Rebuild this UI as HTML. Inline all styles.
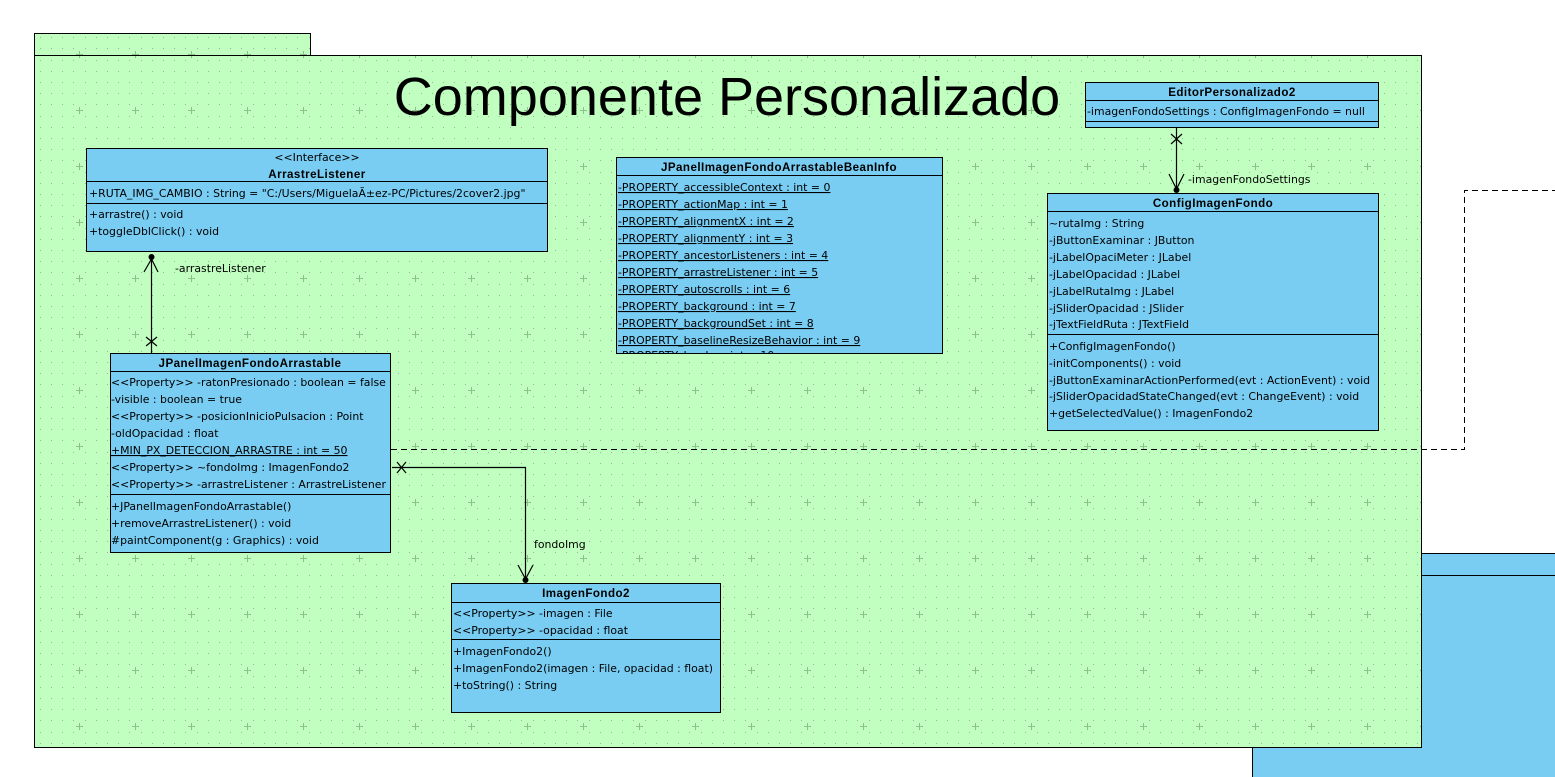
<!DOCTYPE html>
<html><head><meta charset="utf-8"><style>
html,body{margin:0;padding:0;background:#fff;width:1555px;height:777px;overflow:hidden}
svg{display:block}
text{font-family:"DejaVu Sans","Liberation Sans",sans-serif;font-size:10.9px;fill:#000}
.b{font-family:"Liberation Sans",Arial,sans-serif;font-size:11.6px;font-weight:bold;letter-spacing:0.45px}
.t{font-family:"Liberation Sans",Arial,sans-serif;font-size:54px}
</style></head><body>
<svg width="1555" height="777" viewBox="0 0 1555 777" xmlns="http://www.w3.org/2000/svg">
<defs>
<pattern id="g" x="51" y="26" width="56" height="56" patternUnits="userSpaceOnUse">
<g fill="#8cbf8c">
<rect x="0" y="0" width="1" height="1"/><rect x="11" y="0" width="1" height="1"/><rect x="22" y="0" width="1" height="1"/><rect x="34" y="0" width="1" height="1"/><rect x="45" y="0" width="1" height="1"/>
<rect x="0" y="11" width="1" height="1"/><rect x="11" y="11" width="1" height="1"/><rect x="22" y="11" width="1" height="1"/><rect x="34" y="11" width="1" height="1"/><rect x="45" y="11" width="1" height="1"/>
<rect x="0" y="22" width="1" height="1"/><rect x="11" y="22" width="1" height="1"/><rect x="22" y="22" width="1" height="1"/><rect x="34" y="22" width="1" height="1"/><rect x="45" y="22" width="1" height="1"/>
<rect x="0" y="34" width="1" height="1"/><rect x="11" y="34" width="1" height="1"/><rect x="22" y="34" width="1" height="1"/><rect x="34" y="34" width="1" height="1"/><rect x="45" y="34" width="1" height="1"/>
<rect x="0" y="45" width="1" height="1"/><rect x="11" y="45" width="1" height="1"/><rect x="22" y="45" width="1" height="1"/><rect x="34" y="45" width="1" height="1"/><rect x="45" y="45" width="1" height="1"/>
<rect x="25" y="28" width="7" height="1"/><rect x="28" y="25" width="1" height="7"/>
</g>
</pattern>
</defs>
<rect x="1252.5" y="553.5" width="310" height="230" fill="#79cdf3" stroke="#000"/>
<line x1="1252" y1="575.5" x2="1555" y2="575.5" stroke="#000"/>
<rect x="34.5" y="33.5" width="276" height="22" fill="#c0ffc0" stroke="#000"/>
<rect x="34.5" y="33.5" width="276" height="22" fill="url(#g)"/>
<rect x="34.5" y="55.5" width="1387" height="692" fill="#c0ffc0" stroke="#000"/>
<rect x="35" y="56" width="1386" height="691" fill="url(#g)"/>
<text x="727" y="115" text-anchor="middle" class="t">Componente Personalizado</text>
<polyline points="391,449.5 1464.5,449.5 1464.5,190.5 1555,190.5" fill="none" stroke="#000" stroke-dasharray="6,4"/>

<rect x="86.5" y="148.5" width="461" height="103" fill="#79cdf3" stroke="#000"/>
<text x="317" y="161" text-anchor="middle">&lt;&lt;Interface&gt;&gt;</text>
<text x="317" y="178" text-anchor="middle" class="b">ArrastreListener</text>
<line x1="86" y1="181.5" x2="547" y2="181.5" stroke="#000"/>
<text x="89" y="197">+RUTA_IMG_CAMBIO : String = "C:/Users/MiguelaÃ±ez-PC/Pictures/2cover2.jpg"</text>
<line x1="86" y1="203.5" x2="547" y2="203.5" stroke="#000"/>
<text x="89" y="218">+arrastre() : void</text>
<text x="89" y="235">+toggleDblClick() : void</text>

<rect x="110.5" y="353.5" width="280" height="199" fill="#79cdf3" stroke="#000"/>
<text x="250" y="367" text-anchor="middle" class="b">JPanelImagenFondoArrastable</text>
<line x1="110" y1="371.5" x2="390" y2="371.5" stroke="#000"/>
<text x="111" y="386">&lt;&lt;Property&gt;&gt; -ratonPresionado : boolean = false</text>
<text x="111" y="403">-visible : boolean = true</text>
<text x="111" y="420">&lt;&lt;Property&gt;&gt; -posicionInicioPulsacion : Point</text>
<text x="111" y="437">-oldOpacidad : float</text>
<text x="111" y="454" text-decoration="underline">+MIN_PX_DETECCION_ARRASTRE : int = 50</text>
<text x="111" y="471">&lt;&lt;Property&gt;&gt; ~fondoImg : ImagenFondo2</text>
<text x="111" y="488">&lt;&lt;Property&gt;&gt; -arrastreListener : ArrastreListener</text>
<line x1="110" y1="494.5" x2="390" y2="494.5" stroke="#000"/>
<text x="111" y="510">+JPanelImagenFondoArrastable()</text>
<text x="111" y="527">+removeArrastreListener() : void</text>
<text x="111" y="544">#paintComponent(g : Graphics) : void</text>

<svg x="616" y="157" width="327" height="197" overflow="hidden">
<rect x="0.5" y="0.5" width="326" height="196" fill="#79cdf3" stroke="#000"/>
<text x="163" y="14" text-anchor="middle" class="b">JPanelImagenFondoArrastableBeanInfo</text>
<line x1="0" y1="18.5" x2="327" y2="18.5" stroke="#000"/>
<g text-decoration="underline">
<text x="2" y="34">-PROPERTY_accessibleContext : int = 0</text>
<text x="2" y="51">-PROPERTY_actionMap : int = 1</text>
<text x="2" y="68">-PROPERTY_alignmentX : int = 2</text>
<text x="2" y="85">-PROPERTY_alignmentY : int = 3</text>
<text x="2" y="102">-PROPERTY_ancestorListeners : int = 4</text>
<text x="2" y="119">-PROPERTY_arrastreListener : int = 5</text>
<text x="2" y="136">-PROPERTY_autoscrolls : int = 6</text>
<text x="2" y="153">-PROPERTY_background : int = 7</text>
<text x="2" y="170">-PROPERTY_backgroundSet : int = 8</text>
<text x="2" y="187">-PROPERTY_baselineResizeBehavior : int = 9</text>
<text x="2" y="202">-PROPERTY_border : int = 10</text>
</g>
<rect x="0.5" y="0.5" width="326" height="196" fill="none" stroke="#000"/>
</svg>

<rect x="1085.5" y="82.5" width="293" height="45" fill="#79cdf3" stroke="#000"/>
<text x="1232" y="96" text-anchor="middle" class="b">EditorPersonalizado2</text>
<line x1="1085" y1="100.5" x2="1378" y2="100.5" stroke="#000"/>
<text x="1087" y="115">-imagenFondoSettings : ConfigImagenFondo = null</text>
<line x1="1085" y1="121.5" x2="1378" y2="121.5" stroke="#000"/>

<rect x="1047.5" y="193.5" width="331" height="237" fill="#79cdf3" stroke="#000"/>
<text x="1213" y="207" text-anchor="middle" class="b">ConfigImagenFondo</text>
<line x1="1047" y1="211.5" x2="1378" y2="211.5" stroke="#000"/>
<text x="1049" y="227">~rutaImg : String</text>
<text x="1049" y="244">-jButtonExaminar : JButton</text>
<text x="1049" y="261">-jLabelOpaciMeter : JLabel</text>
<text x="1049" y="278">-jLabelOpacidad : JLabel</text>
<text x="1049" y="295">-jLabelRutaImg : JLabel</text>
<text x="1049" y="312">-jSliderOpacidad : JSlider</text>
<text x="1049" y="328">-jTextFieldRuta : JTextField</text>
<line x1="1047" y1="334.5" x2="1378" y2="334.5" stroke="#000"/>
<text x="1049" y="350">+ConfigImagenFondo()</text>
<text x="1049" y="367">-initComponents() : void</text>
<text x="1049" y="384">-jButtonExaminarActionPerformed(evt : ActionEvent) : void</text>
<text x="1049" y="400">-jSliderOpacidadStateChanged(evt : ChangeEvent) : void</text>
<text x="1049" y="417">+getSelectedValue() : ImagenFondo2</text>

<rect x="451.5" y="583.5" width="269" height="129" fill="#79cdf3" stroke="#000"/>
<text x="586" y="597" text-anchor="middle" class="b">ImagenFondo2</text>
<line x1="451" y1="602.5" x2="720" y2="602.5" stroke="#000"/>
<text x="453" y="617">&lt;&lt;Property&gt;&gt; -imagen : File</text>
<text x="453" y="634">&lt;&lt;Property&gt;&gt; -opacidad : float</text>
<line x1="451" y1="639.5" x2="720" y2="639.5" stroke="#000"/>
<text x="453" y="655">+ImagenFondo2()</text>
<text x="453" y="672">+ImagenFondo2(imagen : File, opacidad : float)</text>
<text x="453" y="689">+toString() : String</text>

<g stroke="#000" fill="none" stroke-width="1.2">
<line x1="151.5" y1="257" x2="151.5" y2="353"/>
<polyline points="144,272 151.5,259 158,272"/>
<line x1="146" y1="337" x2="157" y2="346"/><line x1="157" y1="337" x2="146" y2="346"/>
<polyline points="392,467.5 525.5,467.5 525.5,580"/>
<polyline points="518,565 525.5,579 533,565"/>
<line x1="397" y1="462" x2="406" y2="473"/><line x1="406" y1="462" x2="397" y2="473"/>
<line x1="1176.5" y1="128" x2="1176.5" y2="190"/>
<polyline points="1169,174 1176.5,189 1184,174"/>
<line x1="1171" y1="134" x2="1182" y2="144"/><line x1="1182" y1="134" x2="1171" y2="144"/>
</g>
<circle cx="151.5" cy="257" r="3" fill="#000"/>
<circle cx="525.5" cy="580" r="3" fill="#000"/>
<circle cx="1176.5" cy="190" r="3" fill="#000"/>
<text x="175" y="272">-arrastreListener</text>
<text x="534" y="548">fondoImg</text>
<text x="1188" y="183">-imagenFondoSettings</text>
</svg>
</body></html>
